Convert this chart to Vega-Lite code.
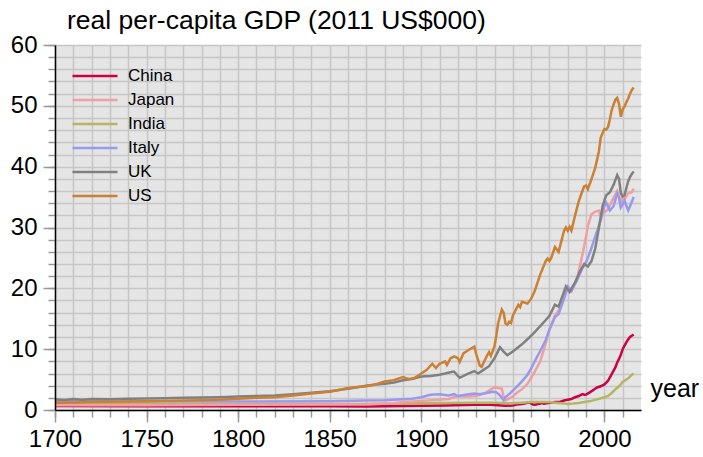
{
  "$schema": "https://vega.github.io/schema/vega-lite/v6.json",
  "width": 586,
  "height": 365,
  "autosize": "none",
  "padding": {"left": 55, "top": 45, "right": 62, "bottom": 47},
  "background": "white",
  "view": {"fill": "#e5e5e5", "stroke": null},
  "title": {"text": "real per-capita GDP (2011 US$000)", "anchor": "start", "frame": "group", "dx": 12, "dy": 9, "offset": 8, "fontSize": 26.5, "font": "Liberation Sans", "fontWeight": "normal", "color": "black"},
  "data": {"values": [
    {"country":"China","year":1700,"gdp":0.65},{"country":"China","year":1750,"gdp":0.62},{"country":"China","year":1800,"gdp":0.6},{"country":"China","year":1850,"gdp":0.6},{"country":"China","year":1870,"gdp":0.58},{"country":"China","year":1890,"gdp":0.65},{"country":"China","year":1913,"gdp":0.75},{"country":"China","year":1929,"gdp":0.85},{"country":"China","year":1936,"gdp":0.9},{"country":"China","year":1942,"gdp":0.8},{"country":"China","year":1946,"gdp":0.7},{"country":"China","year":1950,"gdp":0.75},{"country":"China","year":1952,"gdp":0.9},{"country":"China","year":1955,"gdp":1.0},{"country":"China","year":1957,"gdp":1.1},{"country":"China","year":1959,"gdp":1.25},{"country":"China","year":1961,"gdp":0.9},{"country":"China","year":1962,"gdp":0.85},{"country":"China","year":1965,"gdp":1.05},{"country":"China","year":1966,"gdp":1.15},{"country":"China","year":1967,"gdp":1.05},{"country":"China","year":1970,"gdp":1.2},{"country":"China","year":1973,"gdp":1.3},{"country":"China","year":1976,"gdp":1.35},{"country":"China","year":1978,"gdp":1.55},{"country":"China","year":1980,"gdp":1.7},{"country":"China","year":1982,"gdp":1.8},{"country":"China","year":1984,"gdp":2.1},{"country":"China","year":1986,"gdp":2.3},{"country":"China","year":1988,"gdp":2.6},{"country":"China","year":1989,"gdp":2.5},{"country":"China","year":1990,"gdp":2.55},{"country":"China","year":1992,"gdp":2.9},{"country":"China","year":1994,"gdp":3.3},{"country":"China","year":1996,"gdp":3.7},{"country":"China","year":1998,"gdp":3.9},{"country":"China","year":2000,"gdp":4.2},{"country":"China","year":2002,"gdp":4.8},{"country":"China","year":2004,"gdp":5.9},{"country":"China","year":2006,"gdp":7.0},{"country":"China","year":2007,"gdp":7.8},{"country":"China","year":2008,"gdp":8.4},{"country":"China","year":2009,"gdp":9.1},{"country":"China","year":2010,"gdp":10.0},{"country":"China","year":2011,"gdp":10.6},{"country":"China","year":2012,"gdp":11.1},{"country":"China","year":2013,"gdp":11.6},{"country":"China","year":2014,"gdp":12.0},{"country":"China","year":2015,"gdp":12.2},{"country":"China","year":2016,"gdp":12.4},

    {"country":"India","year":1700,"gdp":1.1},{"country":"India","year":1750,"gdp":1.05},{"country":"India","year":1800,"gdp":1.0},{"country":"India","year":1850,"gdp":1.0},{"country":"India","year":1870,"gdp":1.0},{"country":"India","year":1900,"gdp":1.1},{"country":"India","year":1913,"gdp":1.15},{"country":"India","year":1930,"gdp":1.2},{"country":"India","year":1940,"gdp":1.2},{"country":"India","year":1947,"gdp":1.1},{"country":"India","year":1950,"gdp":1.1},{"country":"India","year":1955,"gdp":1.2},{"country":"India","year":1960,"gdp":1.3},{"country":"India","year":1965,"gdp":1.3},{"country":"India","year":1970,"gdp":1.3},{"country":"India","year":1975,"gdp":1.15},{"country":"India","year":1978,"gdp":1.05},{"country":"India","year":1980,"gdp":1.0},{"country":"India","year":1983,"gdp":1.05},{"country":"India","year":1986,"gdp":1.15},{"country":"India","year":1990,"gdp":1.35},{"country":"India","year":1993,"gdp":1.5},{"country":"India","year":1996,"gdp":1.75},{"country":"India","year":2000,"gdp":2.1},{"country":"India","year":2002,"gdp":2.3},{"country":"India","year":2004,"gdp":2.8},{"country":"India","year":2006,"gdp":3.4},{"country":"India","year":2008,"gdp":3.9},{"country":"India","year":2010,"gdp":4.6},{"country":"India","year":2012,"gdp":5.0},{"country":"India","year":2013,"gdp":5.2},{"country":"India","year":2014,"gdp":5.5},{"country":"India","year":2015,"gdp":5.8},{"country":"India","year":2016,"gdp":6.0},

    {"country":"Japan","year":1700,"gdp":0.8},{"country":"Japan","year":1750,"gdp":0.8},{"country":"Japan","year":1800,"gdp":0.85},{"country":"Japan","year":1850,"gdp":0.9},{"country":"Japan","year":1870,"gdp":0.95},{"country":"Japan","year":1885,"gdp":1.1},{"country":"Japan","year":1890,"gdp":1.3},{"country":"Japan","year":1900,"gdp":1.5},{"country":"Japan","year":1910,"gdp":1.7},{"country":"Japan","year":1915,"gdp":1.8},{"country":"Japan","year":1919,"gdp":2.2},{"country":"Japan","year":1925,"gdp":2.2},{"country":"Japan","year":1930,"gdp":2.3},{"country":"Japan","year":1935,"gdp":2.8},{"country":"Japan","year":1938,"gdp":3.4},{"country":"Japan","year":1940,"gdp":3.7},{"country":"Japan","year":1942,"gdp":3.6},{"country":"Japan","year":1944,"gdp":3.5},{"country":"Japan","year":1945,"gdp":2.2},{"country":"Japan","year":1946,"gdp":1.6},{"country":"Japan","year":1948,"gdp":1.9},{"country":"Japan","year":1950,"gdp":2.2},{"country":"Japan","year":1952,"gdp":2.8},{"country":"Japan","year":1955,"gdp":3.4},{"country":"Japan","year":1958,"gdp":4.3},{"country":"Japan","year":1960,"gdp":5.3},{"country":"Japan","year":1962,"gdp":6.3},{"country":"Japan","year":1965,"gdp":8.0},{"country":"Japan","year":1968,"gdp":11.0},{"country":"Japan","year":1970,"gdp":13.3},{"country":"Japan","year":1973,"gdp":15.5},{"country":"Japan","year":1975,"gdp":16.3},{"country":"Japan","year":1978,"gdp":18.5},{"country":"Japan","year":1980,"gdp":20.0},{"country":"Japan","year":1982,"gdp":19.5},{"country":"Japan","year":1985,"gdp":21.5},{"country":"Japan","year":1988,"gdp":25.5},{"country":"Japan","year":1990,"gdp":28.5},{"country":"Japan","year":1991,"gdp":30.3},{"country":"Japan","year":1993,"gdp":32.2},{"country":"Japan","year":1995,"gdp":32.6},{"country":"Japan","year":1997,"gdp":32.8},{"country":"Japan","year":1998,"gdp":31.8},{"country":"Japan","year":2000,"gdp":32.5},{"country":"Japan","year":2002,"gdp":33.0},{"country":"Japan","year":2004,"gdp":34.3},{"country":"Japan","year":2007,"gdp":36.0},{"country":"Japan","year":2008,"gdp":35.0},{"country":"Japan","year":2009,"gdp":33.3},{"country":"Japan","year":2010,"gdp":35.2},{"country":"Japan","year":2011,"gdp":34.6},{"country":"Japan","year":2013,"gdp":35.6},{"country":"Japan","year":2015,"gdp":35.8},{"country":"Japan","year":2016,"gdp":36.4},

    {"country":"Italy","year":1700,"gdp":1.5},{"country":"Italy","year":1750,"gdp":1.45},{"country":"Italy","year":1800,"gdp":1.4},{"country":"Italy","year":1850,"gdp":1.45},{"country":"Italy","year":1870,"gdp":1.55},{"country":"Italy","year":1880,"gdp":1.6},{"country":"Italy","year":1890,"gdp":1.75},{"country":"Italy","year":1895,"gdp":1.85},{"country":"Italy","year":1900,"gdp":2.1},{"country":"Italy","year":1905,"gdp":2.5},{"country":"Italy","year":1910,"gdp":2.6},{"country":"Italy","year":1915,"gdp":2.4},{"country":"Italy","year":1918,"gdp":2.6},{"country":"Italy","year":1920,"gdp":2.3},{"country":"Italy","year":1925,"gdp":2.55},{"country":"Italy","year":1929,"gdp":2.7},{"country":"Italy","year":1932,"gdp":2.6},{"country":"Italy","year":1935,"gdp":2.75},{"country":"Italy","year":1939,"gdp":3.0},{"country":"Italy","year":1941,"gdp":2.9},{"country":"Italy","year":1943,"gdp":2.4},{"country":"Italy","year":1945,"gdp":1.6},{"country":"Italy","year":1946,"gdp":2.1},{"country":"Italy","year":1948,"gdp":2.6},{"country":"Italy","year":1950,"gdp":3.2},{"country":"Italy","year":1953,"gdp":4.1},{"country":"Italy","year":1955,"gdp":4.7},{"country":"Italy","year":1958,"gdp":5.8},{"country":"Italy","year":1960,"gdp":6.8},{"country":"Italy","year":1963,"gdp":8.6},{"country":"Italy","year":1965,"gdp":9.7},{"country":"Italy","year":1968,"gdp":11.5},{"country":"Italy","year":1970,"gdp":13.2},{"country":"Italy","year":1973,"gdp":15.3},{"country":"Italy","year":1975,"gdp":15.8},{"country":"Italy","year":1978,"gdp":18.3},{"country":"Italy","year":1980,"gdp":20.3},{"country":"Italy","year":1982,"gdp":19.6},{"country":"Italy","year":1985,"gdp":21.3},{"country":"Italy","year":1988,"gdp":23.3},{"country":"Italy","year":1990,"gdp":24.3},{"country":"Italy","year":1992,"gdp":25.8},{"country":"Italy","year":1995,"gdp":28.5},{"country":"Italy","year":1998,"gdp":31.2},{"country":"Italy","year":2000,"gdp":33.5},{"country":"Italy","year":2001,"gdp":34.1},{"country":"Italy","year":2003,"gdp":32.8},{"country":"Italy","year":2005,"gdp":33.5},{"country":"Italy","year":2007,"gdp":35.6},{"country":"Italy","year":2008,"gdp":35.0},{"country":"Italy","year":2009,"gdp":33.3},{"country":"Italy","year":2010,"gdp":33.8},{"country":"Italy","year":2011,"gdp":34.4},{"country":"Italy","year":2013,"gdp":32.8},{"country":"Italy","year":2014,"gdp":33.5},{"country":"Italy","year":2016,"gdp":35.0},

    {"country":"UK","year":1700,"gdp":1.75},{"country":"UK","year":1705,"gdp":1.65},{"country":"UK","year":1710,"gdp":1.8},{"country":"UK","year":1715,"gdp":1.7},{"country":"UK","year":1720,"gdp":1.8},{"country":"UK","year":1730,"gdp":1.75},{"country":"UK","year":1740,"gdp":1.85},{"country":"UK","year":1750,"gdp":1.9},{"country":"UK","year":1760,"gdp":1.95},{"country":"UK","year":1770,"gdp":2.0},{"country":"UK","year":1780,"gdp":2.05},{"country":"UK","year":1790,"gdp":2.1},{"country":"UK","year":1800,"gdp":2.2},{"country":"UK","year":1810,"gdp":2.3},{"country":"UK","year":1820,"gdp":2.4},{"country":"UK","year":1830,"gdp":2.6},{"country":"UK","year":1840,"gdp":2.85},{"country":"UK","year":1850,"gdp":3.1},{"country":"UK","year":1860,"gdp":3.5},{"country":"UK","year":1870,"gdp":4.0},{"country":"UK","year":1875,"gdp":4.2},{"country":"UK","year":1880,"gdp":4.3},{"country":"UK","year":1885,"gdp":4.5},{"country":"UK","year":1890,"gdp":4.9},{"country":"UK","year":1895,"gdp":5.1},{"country":"UK","year":1900,"gdp":5.5},{"country":"UK","year":1905,"gdp":5.6},{"country":"UK","year":1910,"gdp":5.8},{"country":"UK","year":1913,"gdp":6.0},{"country":"UK","year":1917,"gdp":6.3},{"country":"UK","year":1918,"gdp":6.3},{"country":"UK","year":1920,"gdp":5.6},{"country":"UK","year":1921,"gdp":5.3},{"country":"UK","year":1925,"gdp":5.9},{"country":"UK","year":1929,"gdp":6.4},{"country":"UK","year":1931,"gdp":6.0},{"country":"UK","year":1934,"gdp":6.6},{"country":"UK","year":1937,"gdp":7.2},{"country":"UK","year":1940,"gdp":8.5},{"country":"UK","year":1943,"gdp":10.3},{"country":"UK","year":1945,"gdp":9.6},{"country":"UK","year":1947,"gdp":9.0},{"country":"UK","year":1950,"gdp":9.6},{"country":"UK","year":1955,"gdp":10.8},{"country":"UK","year":1960,"gdp":12.2},{"country":"UK","year":1965,"gdp":13.8},{"country":"UK","year":1968,"gdp":14.8},{"country":"UK","year":1970,"gdp":15.5},{"country":"UK","year":1973,"gdp":17.3},{"country":"UK","year":1975,"gdp":17.0},{"country":"UK","year":1979,"gdp":20.3},{"country":"UK","year":1981,"gdp":19.4},{"country":"UK","year":1984,"gdp":21.0},{"country":"UK","year":1987,"gdp":23.0},{"country":"UK","year":1989,"gdp":24.0},{"country":"UK","year":1991,"gdp":23.6},{"country":"UK","year":1993,"gdp":24.5},{"country":"UK","year":1995,"gdp":26.5},{"country":"UK","year":1997,"gdp":29.9},{"country":"UK","year":1999,"gdp":33.5},{"country":"UK","year":2001,"gdp":35.3},{"country":"UK","year":2003,"gdp":35.8},{"country":"UK","year":2005,"gdp":37.0},{"country":"UK","year":2007,"gdp":38.6},{"country":"UK","year":2008,"gdp":38.0},{"country":"UK","year":2009,"gdp":35.6},{"country":"UK","year":2010,"gdp":35.1},{"country":"UK","year":2011,"gdp":35.3},{"country":"UK","year":2012,"gdp":36.5},{"country":"UK","year":2013,"gdp":37.6},{"country":"UK","year":2014,"gdp":38.3},{"country":"UK","year":2015,"gdp":38.8},{"country":"UK","year":2016,"gdp":39.2},

    {"country":"US","year":1700,"gdp":1.2},{"country":"US","year":1710,"gdp":1.25},{"country":"US","year":1720,"gdp":1.3},{"country":"US","year":1730,"gdp":1.35},{"country":"US","year":1740,"gdp":1.4},{"country":"US","year":1750,"gdp":1.45},{"country":"US","year":1760,"gdp":1.5},{"country":"US","year":1770,"gdp":1.55},{"country":"US","year":1780,"gdp":1.6},{"country":"US","year":1790,"gdp":1.7},{"country":"US","year":1800,"gdp":1.85},{"country":"US","year":1810,"gdp":2.0},{"country":"US","year":1820,"gdp":2.1},{"country":"US","year":1830,"gdp":2.4},{"country":"US","year":1840,"gdp":2.7},{"country":"US","year":1850,"gdp":3.0},{"country":"US","year":1855,"gdp":3.3},{"country":"US","year":1860,"gdp":3.6},{"country":"US","year":1865,"gdp":3.8},{"country":"US","year":1870,"gdp":3.9},{"country":"US","year":1875,"gdp":4.2},{"country":"US","year":1880,"gdp":4.7},{"country":"US","year":1885,"gdp":4.9},{"country":"US","year":1890,"gdp":5.4},{"country":"US","year":1893,"gdp":5.1},{"country":"US","year":1896,"gdp":5.2},{"country":"US","year":1900,"gdp":6.0},{"country":"US","year":1903,"gdp":6.6},{"country":"US","year":1906,"gdp":7.6},{"country":"US","year":1908,"gdp":6.9},{"country":"US","year":1910,"gdp":7.6},{"country":"US","year":1913,"gdp":8.0},{"country":"US","year":1914,"gdp":7.4},{"country":"US","year":1916,"gdp":8.5},{"country":"US","year":1918,"gdp":8.8},{"country":"US","year":1920,"gdp":8.5},{"country":"US","year":1921,"gdp":7.9},{"country":"US","year":1923,"gdp":9.3},{"country":"US","year":1926,"gdp":9.9},{"country":"US","year":1929,"gdp":10.4},{"country":"US","year":1930,"gdp":9.2},{"country":"US","year":1932,"gdp":7.3},{"country":"US","year":1933,"gdp":7.1},{"country":"US","year":1936,"gdp":9.0},{"country":"US","year":1937,"gdp":9.5},{"country":"US","year":1938,"gdp":8.9},{"country":"US","year":1940,"gdp":10.5},{"country":"US","year":1941,"gdp":12.2},{"country":"US","year":1942,"gdp":14.3},{"country":"US","year":1944,"gdp":16.5},{"country":"US","year":1945,"gdp":16.0},{"country":"US","year":1946,"gdp":14.2},{"country":"US","year":1947,"gdp":14.0},{"country":"US","year":1948,"gdp":14.5},{"country":"US","year":1949,"gdp":14.3},{"country":"US","year":1950,"gdp":15.5},{"country":"US","year":1953,"gdp":17.3},{"country":"US","year":1954,"gdp":16.9},{"country":"US","year":1955,"gdp":17.8},{"country":"US","year":1958,"gdp":17.5},{"country":"US","year":1960,"gdp":18.3},{"country":"US","year":1962,"gdp":19.6},{"country":"US","year":1965,"gdp":22.3},{"country":"US","year":1968,"gdp":24.5},{"country":"US","year":1969,"gdp":24.9},{"country":"US","year":1970,"gdp":24.5},{"country":"US","year":1971,"gdp":25.0},{"country":"US","year":1973,"gdp":26.8},{"country":"US","year":1974,"gdp":26.4},{"country":"US","year":1975,"gdp":26.0},{"country":"US","year":1978,"gdp":29.5},{"country":"US","year":1979,"gdp":30.0},{"country":"US","year":1980,"gdp":29.5},{"country":"US","year":1981,"gdp":30.1},{"country":"US","year":1982,"gdp":29.5},{"country":"US","year":1984,"gdp":32.0},{"country":"US","year":1986,"gdp":34.3},{"country":"US","year":1988,"gdp":36.0},{"country":"US","year":1989,"gdp":36.8},{"country":"US","year":1990,"gdp":36.9},{"country":"US","year":1991,"gdp":36.3},{"country":"US","year":1993,"gdp":38.0},{"country":"US","year":1995,"gdp":39.8},{"country":"US","year":1997,"gdp":42.5},{"country":"US","year":1998,"gdp":44.8},{"country":"US","year":1999,"gdp":45.5},{"country":"US","year":2000,"gdp":46.2},{"country":"US","year":2001,"gdp":46.1},{"country":"US","year":2002,"gdp":46.5},{"country":"US","year":2003,"gdp":47.8},{"country":"US","year":2004,"gdp":49.3},{"country":"US","year":2005,"gdp":50.2},{"country":"US","year":2006,"gdp":51.0},{"country":"US","year":2007,"gdp":51.3},{"country":"US","year":2008,"gdp":50.3},{"country":"US","year":2009,"gdp":48.2},{"country":"US","year":2010,"gdp":49.4},{"country":"US","year":2011,"gdp":49.9},{"country":"US","year":2012,"gdp":50.6},{"country":"US","year":2013,"gdp":51.2},{"country":"US","year":2014,"gdp":52.0},{"country":"US","year":2015,"gdp":52.6},{"country":"US","year":2016,"gdp":53.0}
  ]},
  "layer": [
    {
      "mark": {"type": "line", "strokeOpacity": 0},
      "encoding": {
        "x": {"field": "year", "type": "quantitative", "scale": {"domain": [1700, 2020], "nice": false, "zero": false},
          "axis": {"orient": "bottom", "values": [1700,1710,1720,1730,1740,1750,1760,1770,1780,1790,1800,1810,1820,1830,1840,1850,1860,1870,1880,1890,1900,1910,1920,1930,1940,1950,1960,1970,1980,1990,2000,2010],
            "grid": true, "gridColor": "#c6c6c6", "gridWidth": 1.5, "domain": false, "labels": false, "tickSize": 7, "tickColor": "#999999", "tickWidth": 1.5, "title": null, "zindex": 0}},
        "y": {"field": "gdp", "type": "quantitative", "scale": {"domain": [0, 60], "nice": false},
          "axis": {"orient": "left", "values": [0,2,4,6,8,10,12,14,16,18,20,22,24,26,28,30,32,34,36,38,40,42,44,46,48,50,52,54,56,58,60],
            "grid": true, "gridColor": "#c6c6c6", "gridWidth": 1.5, "domain": false, "labels": false, "tickSize": 7, "tickColor": "#999999", "tickWidth": 1.5, "title": null, "zindex": 0}},
        "detail": {"field": "country"}
      }
    },
    {
      "mark": {"type": "line", "strokeWidth": 2.5},
      "encoding": {
        "x": {"field": "year", "type": "quantitative",
          "axis": {"orient": "bottom", "values": [1700,1750,1800,1850,1900,1950,2000], "format": "d", "grid": false, "domain": true, "domainColor": "black", "domainWidth": 1.5,
            "tickSize": 12, "tickColor": "#999999", "tickWidth": 1.5, "labelFontSize": 24, "labelFont": "Liberation Sans", "labelColor": "black", "labelPadding": 5, "labelFlush": false, "labelOverlap": false,
            "title": "year", "titleFontSize": 25, "titleFont": "Liberation Sans", "titleFontWeight": "normal", "titleColor": "black", "titleX": 595, "titleY": -14, "titleAlign": "left", "titleBaseline": "alphabetic", "zindex": 1}},
        "y": {"field": "gdp", "type": "quantitative",
          "axis": {"orient": "left", "values": [0,10,20,30,40,50,60], "grid": false, "domain": true, "domainColor": "black", "domainWidth": 1.5,
            "tickSize": 12, "tickColor": "#999999", "tickWidth": 1.5, "labelFontSize": 24, "labelFont": "Liberation Sans", "labelColor": "black", "labelPadding": 6, "labelFlush": false, "labelOverlap": false, "title": null, "zindex": 1}},
        "color": {"field": "country", "type": "nominal",
          "scale": {"domain": ["China", "Japan", "India", "Italy", "UK", "US"], "range": ["#cc0044", "#f0a0a0", "#b5b566", "#9999ee", "#808080", "#cc8033"]},
          "legend": {"orient": "none", "legendX": 16, "legendY": 19, "title": null, "symbolType": "stroke", "symbolSize": 2025, "symbolStrokeWidth": 2.5, "clipHeight": 24, "rowPadding": 0, "labelFontSize": 17, "labelFont": "Liberation Sans", "labelColor": "black", "labelOffset": 9, "padding": 0}}
      }
    }
  ],
  "resolve": {"axis": {"x": "independent", "y": "independent"}}
}
